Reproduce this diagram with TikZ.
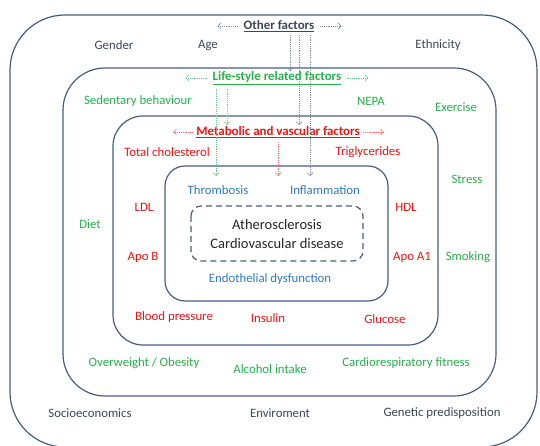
\documentclass[tikz,border=0pt]{standalone}
\usepackage{fontspec}
\setmainfont{Carlito}
\usetikzlibrary{arrows.meta}
\definecolor{boxc}{RGB}{72,92,128}
\definecolor{darkt}{RGB}{60,70,88}
\definecolor{greent}{RGB}{40,175,75}
\definecolor{redt}{RGB}{240,20,20}
\definecolor{bluet}{RGB}{50,120,190}
\definecolor{grayl}{RGB}{130,140,170}
\definecolor{greenl}{RGB}{110,200,130}
\definecolor{redl}{RGB}{240,110,110}
\tikzset{
  frame/.style={draw=boxc, line width=1.2pt},
  lbl/.style={inner sep=1pt, font=\fontsize{12.8}{14}\selectfont},
  dk/.style={lbl, text=darkt},
  gr/.style={lbl, text=greent},
  rd/.style={lbl, text=redt},
  bl/.style={lbl, text=bluet},
  hd/.style={lbl, font=\fontsize{12.9}{14}\selectfont\bfseries},
  dots/.style={dash pattern=on 1.2pt off 1pt, line width=0.6pt, -{Straight Barb[length=3pt,width=6pt]}},
}
\begin{document}
\begin{tikzpicture}[x=1pt,y=-1pt]
\useasboundingbox (0,0) rectangle (540,446);
\begin{scope}
\clip (0,0) rectangle (540,446);
% frames
\draw[frame, rounded corners=55pt] (10,15) rectangle (537,447);
\draw[frame, rounded corners=42pt] (63,68) rectangle (496,396);
\draw[frame, rounded corners=30pt] (113,116) rectangle (438,345);
\draw[frame, rounded corners=20pt] (165,166) rectangle (388,301);
\draw[draw=boxc, line width=1.2pt, dash pattern=on 6pt off 4pt, rounded corners=10pt] (191,206) rectangle (363,261);
\end{scope}

% headings
\node[hd, text=darkt] (other) at (279,26) {\underline{Other factors}};
\node[hd, text=greent] (life) at (277,78) {\underline{Life-style related factors}};
\node[hd, text=redt] (meta) at (278,132) {\underline{Metabolic and vascular factors}};

% outer ring labels
\node[dk] (gender) at (114,45) {Gender};
\node[dk] (age) at (208,45) {Age};
\node[dk] (eth) at (438,45) {Ethnicity};
\node[dk] (socio) at (90,413) {Socioeconomics};
\node[dk] (env) at (280,413) {Enviroment};
\node[dk] (gen) at (442,413) {Genetic predisposition};

% lifestyle labels
\node[gr] (sed) at (138,101) {Sedentary behaviour};
\node[gr] (nepa) at (371,101) {NEPA};
\node[gr] (exer) at (456,107) {Exercise};
\node[gr] (diet) at (90,224) {Diet};
\node[gr] (stress) at (467,179) {Stress};
\node[gr] (smok) at (468,257) {Smoking};
\node[gr] (obes) at (144,363) {Overweight / Obesity};
\node[gr] (alc) at (270,369) {Alcohol intake};
\node[gr] (cardio) at (406,363) {Cardiorespiratory fitness};

% metabolic labels
\node[rd] (tc) at (167,152) {Total cholesterol};
\node[rd] (tg) at (368,152) {Triglycerides};
\node[rd] (ldl) at (144,207) {LDL};
\node[rd] (hdl) at (406,207) {HDL};
\node[rd] (apob) at (143,257) {Apo B};
\node[rd] (apoa) at (412,257) {Apo A1};
\node[rd] (bp) at (174,317) {Blood pressure};
\node[rd] (ins) at (268,318) {Insulin};
\node[rd] (glu) at (385,319) {Glucose};

% inner labels
\node[bl] (thr) at (218,190) {Thrombosis};
\node[bl] (inf) at (325,190) {Inflammation};
\node[bl] (endo) at (270,279) {Endothelial dysfunction};
\node[lbl, align=center, font=\fontsize{14.5}{19}\selectfont, text=black!85] (ath) at (277,234) {Atherosclerosis\\Cardiovascular disease};

% horizontal arrows
\draw[dots, draw=grayl] ([xshift=-4pt]other.west) -- ++(-21,0);
\draw[dots, draw=grayl] ([xshift=4pt]other.east) -- ++(22,0);
\draw[dots, draw=greenl] ([xshift=-5pt]life.west) -- ++(-21,0);
\draw[dots, draw=greenl] ([xshift=5pt]life.east) -- ++(21,0);
\draw[dots, draw=redl] ([xshift=-2pt]meta.west) -- ++(-20,0);
\draw[dots, draw=redl] ([xshift=2pt]meta.east) -- ++(21,0);

% vertical arrows
\coordinate (oa) at (290,35); \coordinate (oae) at (290,71);
\coordinate (ob) at (299,35); \coordinate (obe) at (299,125);
\coordinate (oc) at (310,35); \coordinate (oce) at (310,176);
\coordinate (la) at (216,89); \coordinate (lae) at (216,176);
\coordinate (lb) at (227,89); \coordinate (lbe) at (227,125);
\coordinate (ma) at (278,142); \coordinate (mae) at (278,176);
\draw[dots, draw=grayl] (oa) -- (oae);
\draw[dots, draw=grayl] (ob) -- (obe);
\draw[dots, draw=grayl] (oc) -- (oce);
\draw[dots, draw=greenl] (la) -- (lae);
\draw[dots, draw=greenl] (lb) -- (lbe);
\draw[dots, draw=redl] (ma) -- (mae);
\end{tikzpicture}
\end{document}
